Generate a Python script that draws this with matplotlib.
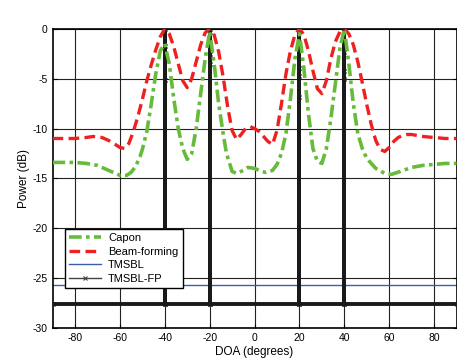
import numpy as np
import matplotlib
matplotlib.use("Agg")
import matplotlib.pyplot as plt
from matplotlib.lines import Line2D

plt.rcParams['font.family'] = ['Liberation Sans', 'DejaVu Sans']
plt.rcParams['axes.unicode_minus'] = False

# Capon
capon_doa = [-90, -85, -80, -75, -70, -65, -60, -57, -55, -53, -51, -50, -48, -46, -44, -42, -40,
             -38, -36, -34, -32, -30, -28, -26, -24, -22, -20, -18, -16, -14, -12.5, -10, -8, -5,
             -3, 0, 3, 5, 8, 10, 12, 14, 16, 18, 20, 22, 24, 26, 28, 30, 32, 34, 36, 38, 40,
             42, 44, 46, 48, 50, 54, 58, 61, 65, 70, 75, 80, 85, 90]
capon_db = [-13.4, -13.4, -13.4, -13.5, -13.7, -14.2, -14.7, -14.7, -14.4, -13.8, -12.8, -12.1, -10.3,
            -7.5, -4.5, -2.2, -1.5, -3.5, -7.0, -10.0, -12.0, -13.1, -12.5, -10.0, -6.5, -3.0, -0.3,
            -3.5, -7.5, -10.5, -12.5, -14.3, -14.5, -14.2, -13.9, -14.0, -14.3, -14.4, -14.2, -13.6,
            -12.5, -10.5, -7.0, -3.0, -0.5, -4.0, -8.5, -12.0, -13.3, -13.5, -12.0, -9.0, -5.5, -2.0,
            0.0, -3.5, -7.5, -10.5, -12.0, -13.0, -14.0, -14.5, -14.6, -14.3, -13.9, -13.7, -13.6,
            -13.5, -13.5]

# Beam-forming
bf_doa = [-90, -85, -80, -75, -72, -68, -65, -62, -60, -58, -56, -54, -52, -50, -48, -46, -44, -42,
          -40, -38, -36, -34, -32, -30, -28, -26, -24, -22, -20, -18, -16, -14, -12, -10, -8, -6,
          -4, -2, 0, 2, 4, 6, 8, 10, 12, 14, 16, 18, 20, 22, 24, 26, 28, 30, 32, 34, 36, 38, 40,
          42, 44, 46, 48, 50, 52, 54, 56, 58, 60, 62, 64, 66, 68, 70, 75, 80, 85, 90]
bf_db = [-11.0, -11.0, -11.0, -10.9, -10.8, -10.9, -11.2, -11.6, -11.9, -12.0, -11.5, -10.3, -8.8,
         -7.1, -5.2, -3.6, -2.1, -0.8, 0.0, -0.5, -1.8, -3.5, -5.2, -5.9, -5.0, -3.3, -1.6, -0.4,
         0.0, -0.6, -2.3, -4.8, -7.8, -10.2, -11.1, -10.6, -10.0, -9.8, -10.0, -10.3, -10.8, -11.3,
         -11.6, -10.2, -7.5, -4.5, -2.2, -0.6, 0.0, -0.6, -2.2, -4.2, -6.0, -6.5, -5.2, -3.0, -1.3,
         -0.3, 0.0, -0.5, -1.6, -3.3, -5.4, -7.6, -9.6, -11.2, -12.1, -12.3, -11.9, -11.3, -10.9,
         -10.7, -10.6, -10.6, -10.8, -10.9, -11.0, -11.0]

# TMSBL: flat floor with spikes at the source angles
tm_doa = [-90, -40, -40, -40, -20, -20, -20, 20, 20, 20, 40, 40, 40, 90]
tm_db = [-25.7, -25.7, 0.0, -25.7, -25.7, 0.0, -25.7, -25.7, 0.0, -25.7, -25.7, 0.0, -25.7, -25.7]

# TMSBL-FP
fp_doa = [-90, -40, -40, -40, -40, -40, -40, -20, -20, -20, -20, -20,
          20, 20, 20, 20, 20, 20, 40, 40, 40, 40, 40, 40, 90]
fp_db = [-27.6, -27.6, -5.1, -2.8, -1.7, 0.0, -27.6, -27.6, -3.5, -2.5, -0.3, -27.6,
         -27.6, -6.8, -4.7, -3.9, 0.0, -27.6, -27.6, -5.0, -4.2, -2.3, 0.0, -27.6, -27.6]

fig = plt.figure(figsize=(4.57, 3.6), dpi=100)
ax = fig.add_axes([0.115, 0.089, 0.884, 0.831])

ax.axhline(-27.35, color='#aaaaaa', lw=0.8, ls=':', zorder=2)
ax.plot(fp_doa, fp_db, color='#1a1a1a', lw=2.8, marker='x', ms=3.5, mew=1.0, zorder=3)
ax.plot(tm_doa, tm_db, color='#3a5db0', lw=1.0, zorder=2)
ax.plot(bf_doa, bf_db, color='#ee2020', lw=2.4, ls=(0, (3.2, 1.6)), zorder=4)
ax.plot(capon_doa, capon_db, color='#66bb3a', lw=2.6, ls=(0, (3.5, 1.2, 1.0, 1.2)), zorder=5)

ax.set_xlim(-90, 90)
ax.set_ylim(-30, 0)
ax.set_xticks(np.arange(-80, 81, 20))
ax.set_yticks(np.arange(-30, 1, 5))
ax.grid(True, color='#222222', lw=0.8)
ax.set_axisbelow(True)
ax.tick_params(direction='in', labelsize=7.5, right=True, top=False, length=3)
for s in ax.spines.values():
    s.set_linewidth(1.2)
ax.set_xlabel('DOA (degrees)', fontsize=8.5, labelpad=2)
ax.set_ylabel('Power (dB)', fontsize=8.5, labelpad=2)

handles = [
    Line2D([], [], color='#66bb3a', lw=2.6, ls=(0, (3.5, 1.2, 1.0, 1.2))),
    Line2D([], [], color='#ee2020', lw=2.4, ls=(0, (3.2, 1.6))),
    Line2D([], [], color='#3a5db0', lw=1.0),
    Line2D([], [], color='#444444', lw=1.0, marker='x', ms=3, mew=0.8),
]
leg = ax.legend(handles, ['Capon', 'Beam-forming', 'TMSBL', 'TMSBL-FP'],
                loc='upper left', bbox_to_anchor=(0.016, 0.35), fontsize=8,
                fancybox=False, framealpha=1, edgecolor='black', borderpad=0.4,
                labelspacing=0.32, handlelength=2.9, handletextpad=0.6)
leg.get_frame().set_linewidth(1.0)
leg.set_zorder(10)

fig.savefig('out.png', dpi=100)
